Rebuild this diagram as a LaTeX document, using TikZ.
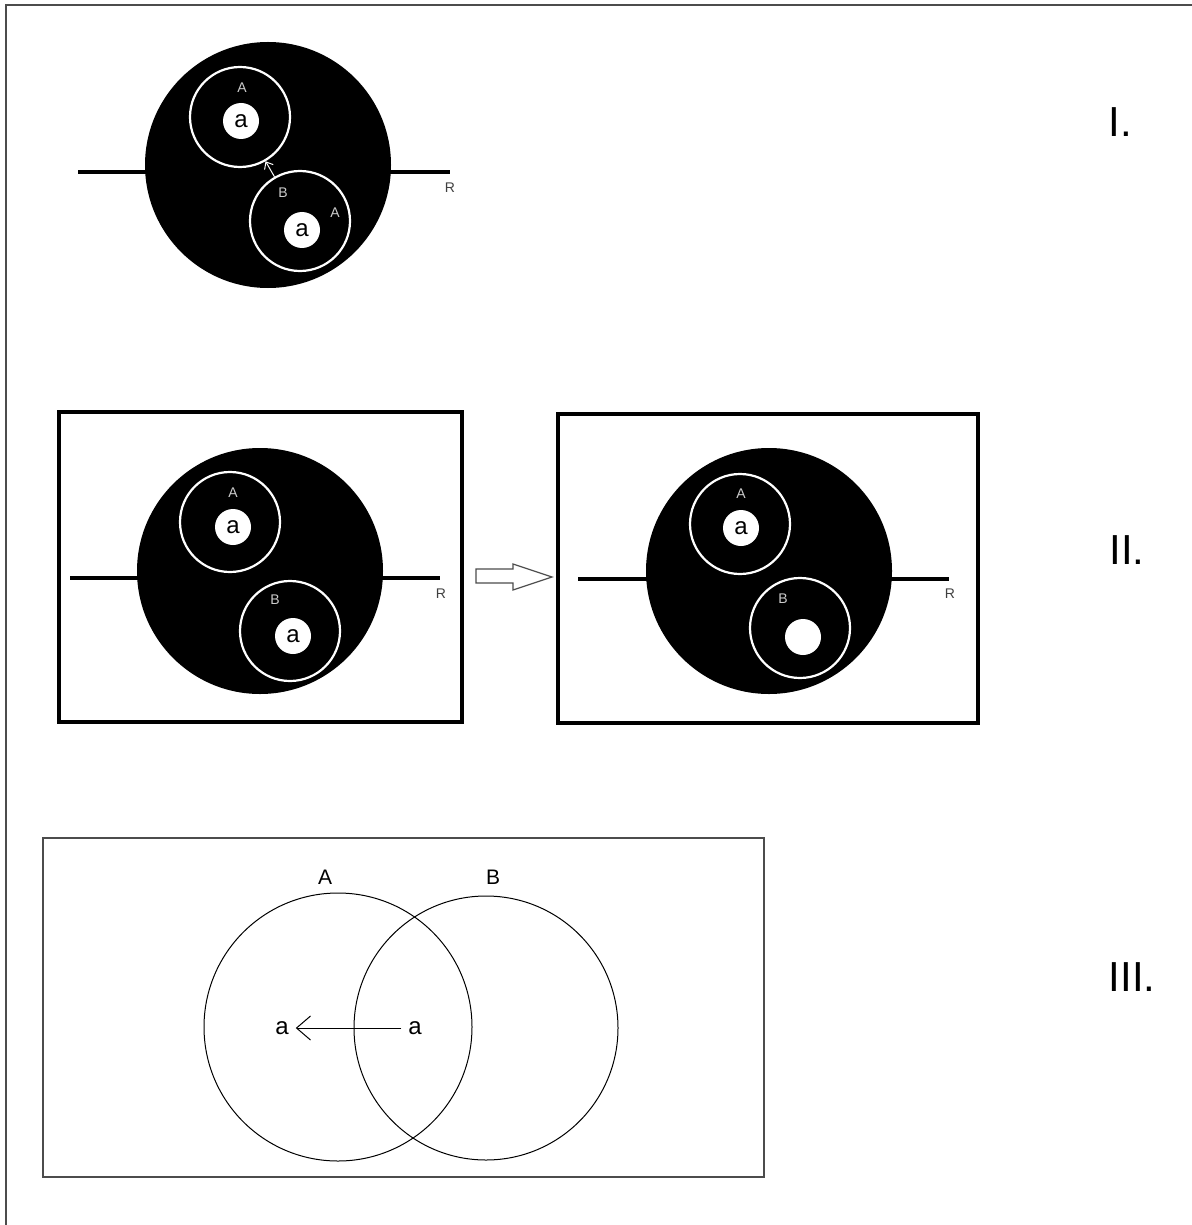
\documentclass[tikz,border=0pt]{standalone}
\usepackage{fontspec}
\setmainfont{Liberation Sans}
\usetikzlibrary{arrows.meta}

\begin{document}
\begin{tikzpicture}[x=0.5pt, y=-0.5pt,
  cell/.style={circle, fill=black, minimum size=123pt, inner sep=0pt},
  ring/.style={circle, draw=white, line width=1.1pt, minimum size=50pt, inner sep=0pt},
  dot/.style={circle, fill=white, minimum size=18pt, inner sep=0pt,
              font=\fontsize{12}{12}\selectfont},
  tag/.style={text=white!80!black, inner sep=0pt, font=\fontsize{7}{8}\selectfont},
  rtag/.style={text=black!75, inner sep=0pt, font=\fontsize{7}{8}\selectfont},
  axis/.style={line width=2pt},
  frame/.style={draw, line width=1.6pt},
  set/.style={circle, draw, line width=0.5pt, inner sep=0pt},
  roman/.style={font=\fontsize{21}{21}\selectfont}]

  \useasboundingbox (0,0) rectangle (1192,1225);
  \draw[black!70, line width=1pt] (6,1225) -- (6,5) -- (1192,5);

  % I.
  \coordinate (lI) at (78,172);
  \coordinate (rI) at (450,172);
  \draw[axis] (lI) -- (rI);
  \node[cell] (cI) at (268,165) {};
  \node[ring] (aI) at (240,117) {};
  \node[ring] (bI) at (300,221) {};
  \node[dot] (daI) at (241,121) {a};
  \node[dot] (dbI) at (302,230) {a};
  \node[tag] at (242,88) {A};
  \node[tag] at (283,193) {B};
  \node[tag] at (335,213) {A};
  \node[rtag] at (450,188) {R};
  \draw[->, >={Straight Barb[length=3pt, width=5pt]}, white, line width=0.5pt] (bI) -- (aI);
  \node[roman] at (1120,122) {I.};

  % II. links
  \draw[frame] (59,412) rectangle (462,722);
  \coordinate (lIIa) at (70,578);
  \coordinate (rIIa) at (440,578);
  \draw[axis] (lIIa) -- (rIIa);
  \node[cell] (cIIa) at (260,571) {};
  \node[ring] (aIIa) at (230,522) {};
  \node[ring] (bIIa) at (290,631) {};
  \node[dot] at (233,527) {a};
  \node[dot] at (293,636) {a};
  \node[tag] at (233,493) {A};
  \node[tag] at (275,600) {B};
  \node[rtag] at (441,594) {R};

  % II. rechts
  \draw[frame] (558,414) rectangle (978,723);
  \coordinate (lIIb) at (578,579);
  \coordinate (rIIb) at (949,579);
  \draw[axis] (lIIb) -- (rIIb);
  \node[cell] (cIIb) at (769,571) {};
  \node[ring] (aIIb) at (740,524) {};
  \node[ring] (bIIb) at (800,628) {};
  \node[dot] at (741,528) {a};
  \node[dot] at (803,637) {};
  \node[tag] at (741,494) {A};
  \node[tag] at (783,599) {B};
  \node[rtag] at (950,594) {R};

  \draw[black!70, line width=0.6pt, fill=white]
    (476,569) -- (513,569) -- (513,564) -- (552,577) -- (513,590)
    -- (513,583) -- (476,583) -- cycle;
  \node[roman] at (1127,550) {II.};

  % III.
  \draw[black!70, line width=0.8pt] (43,838) rectangle (764,1177);
  \node[set, minimum size=134pt] (A) at (338,1027) {};
  \node[set, minimum size=132pt] (B) at (486,1028) {};
  \node[font=\fontsize{10.5}{11}\selectfont] at (325,877) {A};
  \node[font=\fontsize{10.5}{11}\selectfont] at (493,877) {B};
  \node[font=\fontsize{12}{12}\selectfont] (a1) at (282,1028) {a};
  \node[font=\fontsize{12}{12}\selectfont] (a2) at (415,1028) {a};
  \draw[->, >={Straight Barb[length=7pt, width=12pt]}, line width=0.5pt] (a2) -- (a1);
  \node[roman] at (1132,977) {III.};
\end{tikzpicture}
\end{document}
